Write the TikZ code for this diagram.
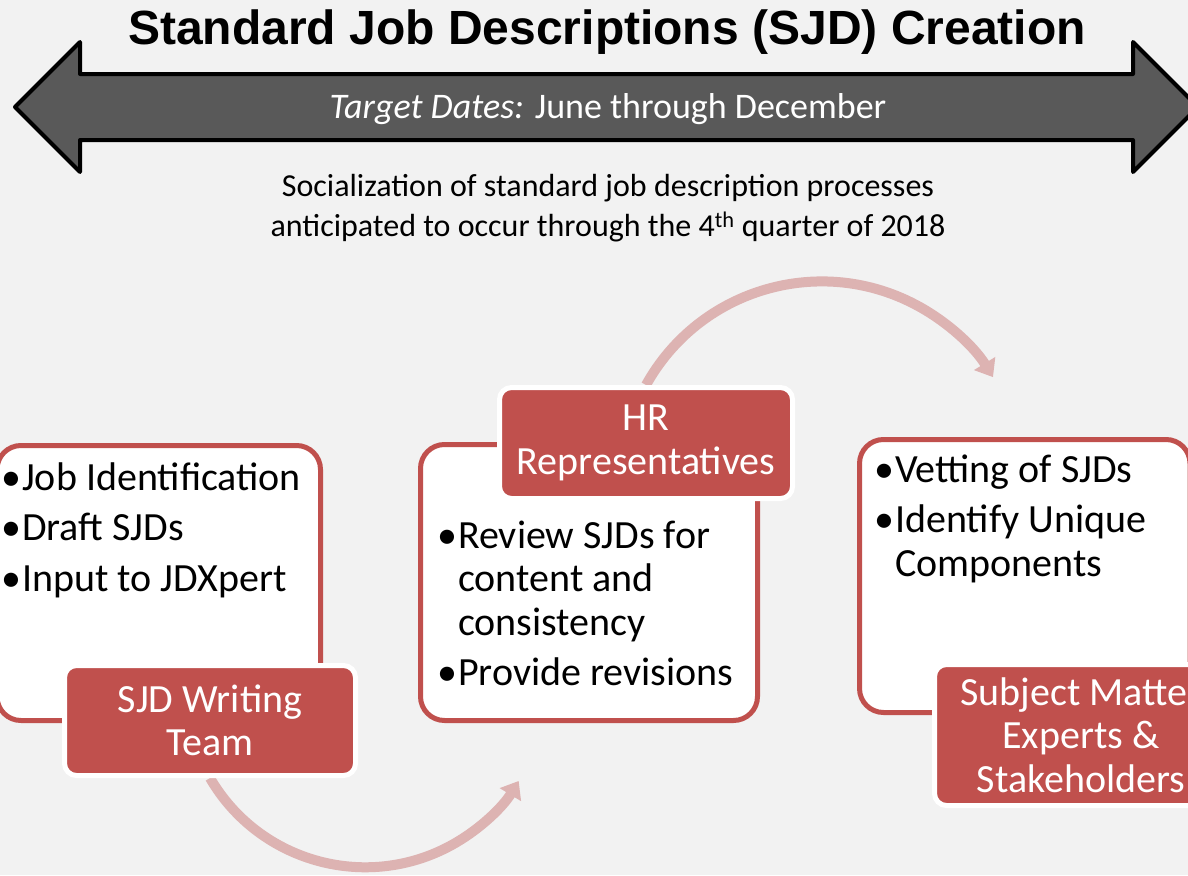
\documentclass[tikz,border=0pt]{standalone}
\usepackage{fontspec}
\setmainfont{Carlito}
\newfontfamily\headfont{Liberation Sans}
\usepackage{tikz}
\usetikzlibrary{arrows.meta}
\definecolor{pagebg}{HTML}{F2F2F2}
\definecolor{barfill}{HTML}{595959}
\definecolor{sjdred}{HTML}{C0504D}
\definecolor{flowpink}{HTML}{DDB3B2}
\pgfdeclarelayer{behind}
\pgfsetlayers{behind,main}
\newcommand\bitem[1]{\hangindent=21pt\hangafter=1\noindent\makebox[21pt][l]{\textbullet}#1\par\vspace{7pt}}

\begin{document}
\begin{tikzpicture}[x=1pt, y=-1pt,
  card/.style = {draw=sjdred, line width=5pt, fill=white, rounded corners=24pt, inner sep=0pt},
  tag/.style = {draw=white, line width=5pt, fill=sjdred, rounded corners=12pt, text=white, align=center, inner sep=0pt, font=\fontsize{40}{43.5}\selectfont},
  list/.style = {anchor=base west, inner sep=0pt, text width=340pt, align=flush left, font=\fontsize{40}{43.5}\selectfont},
  flow/.style = {flowpink, line width=10pt, -{Triangle[length=16pt,width=24pt]}}]
	\useasboundingbox (0,0) rectangle (1188,875);
	% timeline
	\draw[line width=4pt, line join=round, fill=barfill] (15,107) -- (80,42) -- (80,74) -- (1133,74) -- (1133,42) -- (1198,107) -- (1133,172) -- (1133,140) -- (80,140) -- (80,172) -- cycle;
	\node[anchor=base, font=\headfont\bfseries\fontsize{48}{52}\selectfont] (title) at (607,45) {Standard Job Descriptions (SJD) Creation};
	\node[anchor=base, text=white, font=\fontsize{36}{40}\selectfont] (dates) at (608,118) {\textit{Target Dates:} June through December};
	\node[anchor=north, align=center, inner sep=0pt, font=\fontsize{32}{40}\selectfont] (social) at (608,174) {Socialization of standard job description processes\\anticipated to occur through the 4\textsuperscript{th} quarter of 2018};
	% cards
	\node[card, minimum width=323.5pt, minimum height=275pt] (drafting) at (158.75,583) {};
	\node[card, minimum width=337pt, minimum height=276pt] (review) at (589,582.5) {};
	\node[card, minimum width=330.5pt, minimum height=273pt] (vetting) at (1024.75,576) {};
	\node[list] (draftlist) at (1,490) {\bitem{Job Identification}\bitem{Draft SJDs}\bitem{Input to JDXpert}};
	\node[list] (reviewlist) at (437,548) {\bitem{Review SJDs for\newline content and\newline consistency}\bitem{Provide revisions}};
	\node[list] (vetlist) at (874,482) {\bitem{Vetting of SJDs}\bitem{Identify Unique\newline Components}};
	% tags
	\node[tag, minimum width=291pt, minimum height=110pt] (writers) at (210,720.5) {SJD Writing\\Team};
	\node[tag, minimum width=293pt, minimum height=111pt] (hrreps) at (646,443) {HR\\Representatives};
	\node[tag, minimum width=293pt, minimum height=141pt] (smes) at (1081,735) {Subject Matter\\Experts \&\\Stakeholders};
	% flows
	\begin{pgfonlayer}{behind}
		\fill[pagebg] (0,0) rectangle (1188,875);
		\draw[flow] (hrreps.north) arc[start angle=-151, end angle=-31.6, radius=201];
		\draw[flow] (writers.south) arc[start angle=149.8, end angle=31.3, radius=179.6];
	\end{pgfonlayer}
\end{tikzpicture}
\end{document}
